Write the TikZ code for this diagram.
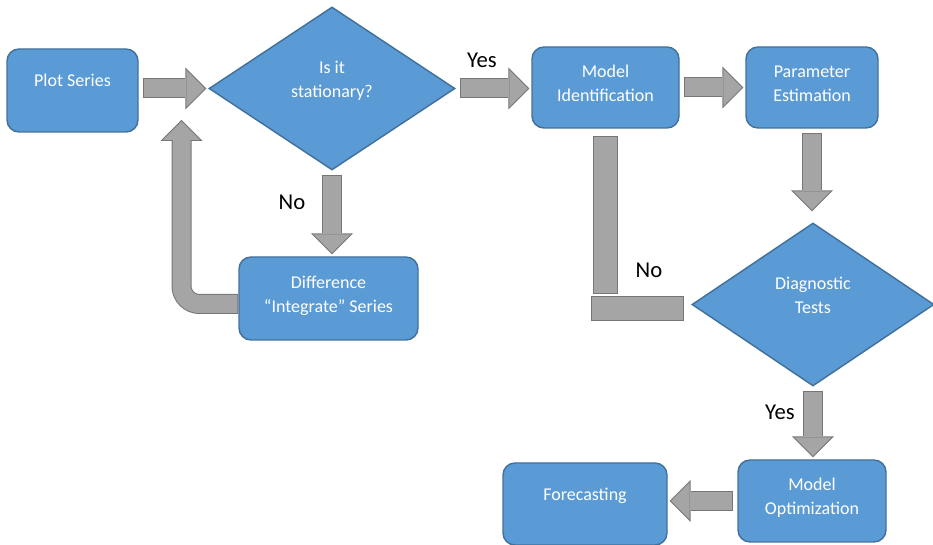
\documentclass[tikz,border=0pt]{standalone}
\usepackage{fontspec}
\setmainfont{Carlito}
\usetikzlibrary{shapes.geometric,arrows.meta,calc}

\definecolor{boxblue}{RGB}{91,155,213}
\definecolor{boxedge}{RGB}{65,113,156}
\definecolor{arrowgray}{RGB}{165,165,165}
\definecolor{arrowedge}{RGB}{118,118,118}

\tikzset{
  box/.style={draw=boxedge, fill=boxblue, line width=1.1pt, rounded corners=9pt, text=white, align=center, inner sep=0pt, font=\fontsize{13.5}{18}\selectfont, text height=27pt, text depth=6.6pt},
  oneline/.style={text height=9pt, text depth=14.5pt},
  decision/.style={diamond, draw=boxedge, fill=boxblue, line width=1.1pt, text=white, align=center, inner sep=0pt, font=\fontsize{13.5}{18}\selectfont, text height=27pt, text depth=14pt},
  answer/.style={font=\fontsize{17}{20}\selectfont, inner sep=0pt},
  fatedge/.style={draw=arrowedge, line width=15pt, shorten <=3pt, shorten >=1.5pt, -{Triangle[width=31.5pt,length=15.75pt,line width=0pt]}},
  fatbody/.style={draw=arrowgray, line width=13.5pt, shorten <=3.75pt, shorten >=2.625pt, -{Triangle[width=27.75pt,length=13.875pt,line width=0pt]}},
  barbox/.style={draw=arrowedge, fill=arrowgray, line width=0.75pt}
}
% block arrow: dark edge first, light body on top
\newcommand{\fatarrow}[1]{\draw[fatedge] #1; \draw[fatbody] #1;}

\begin{document}
\begin{tikzpicture}[x=0.75pt,y=0.75pt,yscale=-1,xscale=1]
\useasboundingbox (0,0) rectangle (933,545);

%Rounded Rect [plot]
\node[box, oneline, minimum width=98.25pt, minimum height=62.25pt] (plot) at (72.5,90.5) {Plot Series};
%Diamond [stat]
\node[decision, minimum width=184.5pt, minimum height=122.25pt] (stat) at (332,88.5) {Is it\\stationary?};
%Rounded Rect [diff]
\node[box, minimum width=134.25pt, minimum height=62.25pt] (diff) at (328.5,298.5) {Difference\\“Integrate” Series};
%Rounded Rect [ident]
\node[box, minimum width=110.25pt, minimum height=60.75pt] (ident) at (605.5,87.5) {Model\\Identification};
%Rounded Rect [param]
\node[box, minimum width=99pt, minimum height=60.75pt] (param) at (812,87.5) {Parameter\\Estimation};
%Diamond [diag]
\node[decision, minimum width=181.5pt, minimum height=122.25pt] (diag) at (813,304.5) {Diagnostic\\Tests};
%Rounded Rect [opt]
\node[box, minimum width=111pt, minimum height=61.5pt] (opt) at (812,501) {Model\\Optimization};
%Rounded Rect [fore]
\node[box, oneline, minimum width=123pt, minimum height=61.5pt] (fore) at (585,504) {Forecasting};

%Block Arrows
\fatarrow{(stat.west -| plot.east) -- (stat.west)}
\fatarrow{(stat.east) -- (stat.east -| ident.west)}
\fatarrow{(ident.east) -- (ident.east -| param.west)}
\fatarrow{(param.south) -- ($(param.south |- diag.north)+(0,-9)$)}
\fatarrow{(stat.south) -- (stat.south |- diff.north)}
\fatarrow{(diag.south) -- (diag.south |- opt.north)}
\fatarrow{(opt.west) -- (opt.west -| fore.east)}
%Bent Arrow [diff back to stat]
\coordinate (back) at (181.5,118);
\fatarrow{[rounded corners=13.5pt] ($(diff.west)+(4,5.5)$) -| (back)}

%Bars [diag back to ident]
\draw[barbox] ($(ident.south)+(-12.5,8)$) rectangle ($(ident.south)+(11.5,165)$);
\draw[barbox] ($(diag.west)+(-100,-7.5)$) rectangle ($(diag.west)+(-8,16.5)$);

% Text Node
\node[answer] (yes1) at (482,60) {Yes};
% Text Node
\node[answer] (no1) at (292,202) {No};
% Text Node
\node[answer] (no2) at (649,270) {No};
% Text Node
\node[answer] (yes2) at (780,412) {Yes};

\end{tikzpicture}
\end{document}
